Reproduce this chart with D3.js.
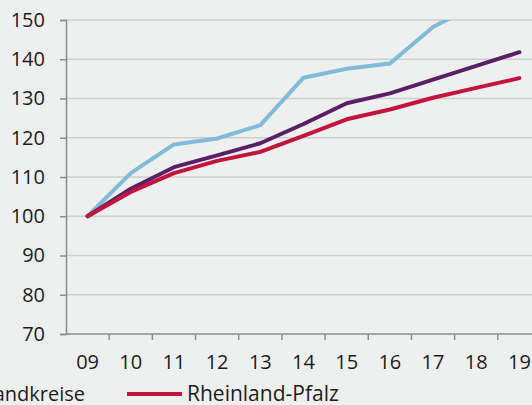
<!DOCTYPE html>
<html>
<head>
<meta charset="utf-8">
<script src="https://cdn.jsdelivr.net/npm/d3@7"></script>
<style>
  html, body { margin: 0; padding: 0; background: #eef0ef; }
  svg { display: block; }
  text { font-family: "Open Sans", "Noto Sans", sans-serif; }
</style>
</head>
<body>
<svg id="chart" width="532" height="405"></svg>
<script>
const years = ["09", "10", "11", "12", "13", "14", "15", "16", "17", "18", "19"];
const staedte = [100, 111.0, 118.3, 119.8, 123.2, 135.3, 137.6, 138.9, 148.2, 154.0, 158.0];
const landkreise = [100, 107.0, 112.5, 115.5, 118.6, 123.5, 128.8, 131.3, 134.8, 138.3, 141.8];
const rlp = [100, 106.2, 111.0, 114.1, 116.4, 120.5, 124.7, 127.2, 130.2, 132.7, 135.2];
const yTicks = [70, 80, 90, 100, 110, 120, 130, 140, 150];
const seriesNames = ["kreisfreie Städte", "Landkreise", "Rheinland-Pfalz"];
const seriesColors = ["#80bcd9", "#5b1f66", "#c3143e"];
const titleText = "Index: 2009 = 100";

const svg = d3.select("#chart");
const mLeft = 66, mRight = 541, mTop = 20, mBottom = 334;
const fs = 20, textCol = "#1c1c1c", axisCol = "#8c8c8c";

const x = d3.scaleBand().domain(years).range([mLeft, mRight]);
const y = d3.scaleLinear().domain([70, 150]).range([mBottom, mTop]);

// title (cut off at top, as in the reference)
svg.append("text").attr("x", 324).attr("y", 0).attr("text-anchor", "middle")
  .attr("font-size", fs).attr("fill", "#a5a5a5").text(titleText);

// gridlines
svg.append("g").selectAll("line").data(yTicks.filter(d => d > 70)).join("line")
  .attr("x1", mLeft).attr("x2", mRight)
  .attr("y1", d => y(d)).attr("y2", d => y(d))
  .attr("stroke", "#cdcfce").attr("stroke-width", 1.5);

// y axis
const yAxis = d3.axisLeft(y).tickValues(yTicks).tickSize(6).tickPadding(15).tickFormat(d3.format("d"));
const gy = svg.append("g").attr("transform", `translate(${mLeft},0)`).call(yAxis);
gy.select(".domain").attr("stroke", axisCol).attr("stroke-width", 1.5);
gy.selectAll(".tick line").attr("stroke", axisCol).attr("stroke-width", 1.5);
gy.selectAll(".tick text").attr("font-size", fs).attr("fill", textCol)
  .attr("font-family", "'Open Sans', sans-serif");

// x axis
const gx = svg.append("g").attr("transform", `translate(0,${mBottom})`);
gx.append("line").attr("x1", mLeft).attr("x2", mRight).attr("y1", 0).attr("y2", 0)
  .attr("stroke", axisCol).attr("stroke-width", 1.5);
gx.selectAll("line.tk").data(years.slice(1)).join("line").attr("class", "tk")
  .attr("x1", d => x(d)).attr("x2", d => x(d)).attr("y1", 0).attr("y2", 6)
  .attr("stroke", axisCol).attr("stroke-width", 1.5);
gx.selectAll("text").data(years).join("text")
  .attr("x", d => x(d) + x.bandwidth() / 2).attr("y", 35)
  .attr("text-anchor", "middle").attr("font-size", fs).attr("fill", textCol).text(d => d);

// lines
svg.append("clipPath").attr("id", "clip").append("rect")
  .attr("x", mLeft).attr("y", mTop).attr("width", mRight - mLeft).attr("height", mBottom - mTop);
const line = d3.line().x((d, i) => x(years[i]) + x.bandwidth() / 2).y(d => y(d));
const allSeries = [staedte, landkreise, rlp];
svg.append("g").attr("clip-path", "url(#clip)").selectAll("path").data(allSeries).join("path")
  .attr("d", d => line(d)).attr("fill", "none")
  .attr("stroke", (d, i) => seriesColors[i]).attr("stroke-width", 4)
  .attr("stroke-linejoin", "round").attr("stroke-linecap", "round");

// legend (partly off-canvas on the left, as in the reference)
const lg = svg.append("g");
const legY = 401;
// Rheinland-Pfalz entry
lg.append("line").attr("x1", 127).attr("x2", 182).attr("y1", legY - 7).attr("y2", legY - 7)
  .attr("stroke", seriesColors[2]).attr("stroke-width", 4);
lg.append("text").attr("x", 187).attr("y", legY).attr("font-size", 21).attr("fill", textCol).text(seriesNames[2]);
// Landkreise entry: text ends at x=85
const tLk = lg.append("text").attr("y", legY).attr("font-size", fs).attr("fill", textCol).text(seriesNames[1]);
const wLk = tLk.node().getComputedTextLength();
tLk.attr("x", 85 - wLk);
lg.append("line").attr("x1", 85 - wLk - 60).attr("x2", 85 - wLk - 5).attr("y1", legY - 7).attr("y2", legY - 7)
  .attr("stroke", seriesColors[1]).attr("stroke-width", 4);
// kreisfreie Städte entry (off-canvas)
const tKs = lg.append("text").attr("y", legY).attr("font-size", fs).attr("fill", textCol).text(seriesNames[0]);
const wKs = tKs.node().getComputedTextLength();
const ksEnd = 85 - wLk - 60 - 40;
tKs.attr("x", ksEnd - wKs);
lg.append("line").attr("x1", ksEnd - wKs - 60).attr("x2", ksEnd - wKs - 5).attr("y1", legY - 7).attr("y2", legY - 7)
  .attr("stroke", seriesColors[0]).attr("stroke-width", 4);
</script>
</body>
</html>
